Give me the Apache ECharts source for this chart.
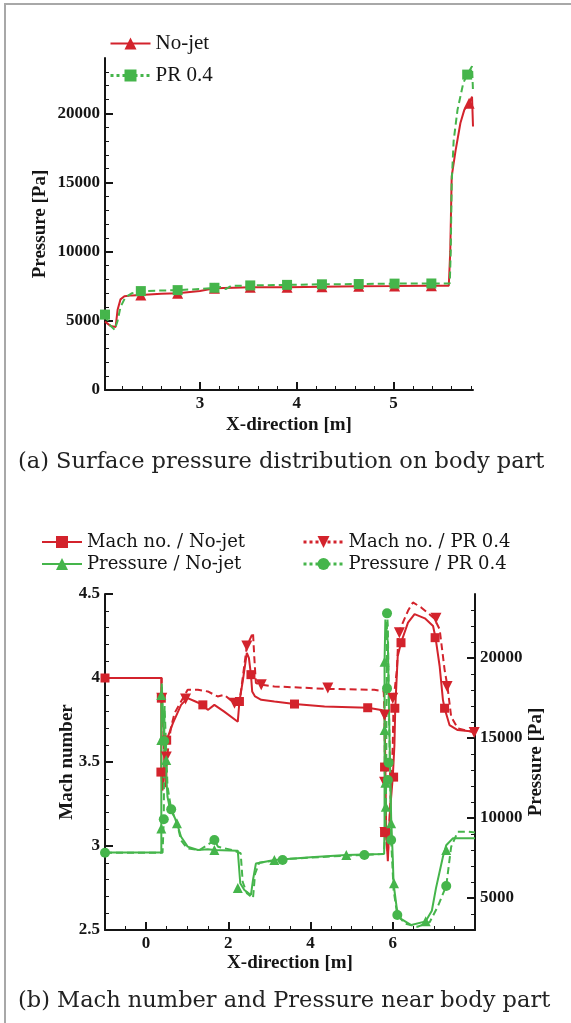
<!DOCTYPE html>
<html><head><meta charset="utf-8">
<script src="https://cdn.jsdelivr.net/npm/echarts@6/dist/echarts.min.js"></script>
<style>html,body{margin:0;padding:0;background:#fff}#c{width:571px;height:1023px}</style>
</head><body><div id="c"></div>
<script>
// ---------- (a) surface pressure on body part ----------
const topXTicks = [3, 4, 5];
const topYTicks = [0, 5000, 10000, 15000, 20000];
const topNoJet = [[2.02,4940],[2.08,4620],[2.13,4560],[2.15,5800],[2.18,6550],[2.22,6780],[2.3,6840],[2.39,6870],[2.6,6950],[2.77,6990],[3.0,7150],[3.15,7350],[3.35,7400],[3.52,7420],[3.9,7430],[4.26,7470],[4.64,7500],[5.01,7510],[5.39,7530],[5.57,7540],[5.585,10000],[5.6,15440],[5.64,17300],[5.69,19300],[5.73,20250],[5.78,20720],[5.81,21200],[5.82,19050]];
const topNoJetMarks = [[2.39,6870],[2.77,6990],[3.15,7350],[3.52,7420],[3.9,7430],[4.26,7470],[4.64,7500],[5.01,7510],[5.39,7530],[5.78,20720]];
const topPR = [[2.02,5450],[2.07,4700],[2.12,4350],[2.15,5000],[2.18,6000],[2.23,6700],[2.3,7000],[2.39,7150],[2.77,7220],[3.0,7300],[3.15,7390],[3.22,7450],[3.27,7300],[3.32,7520],[3.52,7560],[3.9,7600],[4.26,7640],[4.64,7660],[5.01,7690],[5.39,7700],[5.58,7700],[5.59,10000],[5.6,15000],[5.62,18000],[5.66,20250],[5.72,22200],[5.76,22800],[5.81,23400],[5.82,21600]];
const topPRMarks = [[2.02,5450],[2.39,7150],[2.77,7220],[3.15,7390],[3.52,7560],[3.9,7600],[4.26,7640],[4.64,7660],[5.01,7690],[5.39,7700],[5.76,22800]];

// ---------- (b) Mach number and pressure near body part ----------
const botXTicks = [0, 2, 4, 6];
const machTicks = [2.5, 3, 3.5, 4, 4.5];
const presTicks = [5000, 10000, 15000, 20000];
const machNoJet = [[-1,4.0],[0.37,4.0],[0.37,3.87],[0.37,3.44],[0.4,3.33],[0.45,3.52],[0.5,3.63],[0.65,3.73],[0.85,3.84],[1.01,3.88],[1.2,3.86],[1.38,3.84],[1.5,3.81],[1.66,3.84],[1.9,3.8],[2.23,3.74],[2.27,3.86],[2.35,3.98],[2.45,4.15],[2.5,4.12],[2.55,4.02],[2.58,3.92],[2.65,3.89],[2.8,3.87],[3.12,3.86],[3.61,3.845],[4.34,3.83],[5.39,3.823],[5.72,3.81],[5.8,3.8],[5.82,3.47],[5.84,3.08],[5.88,2.91],[5.93,3.2],[6.0,3.41],[6.04,3.6],[6.06,3.82],[6.12,4.13],[6.2,4.21],[6.37,4.33],[6.53,4.38],[6.78,4.355],[6.98,4.31],[7.04,4.24],[7.14,4.07],[7.22,3.87],[7.26,3.82],[7.38,3.72],[7.58,3.69],[8.0,3.68]];
const machNoJetMarks = [[-1,4.0],[0.37,3.88],[0.36,3.44],[0.5,3.63],[1.38,3.84],[2.27,3.86],[2.55,4.02],[3.61,3.845],[5.39,3.823],[5.8,3.47],[5.8,3.08],[6.02,3.41],[6.05,3.82],[6.2,4.21],[7.03,4.24],[7.26,3.82]];
const machPR = [[-1,4.0],[0.38,4.0],[0.38,3.88],[0.42,3.7],[0.45,3.45],[0.48,3.35],[0.51,3.53],[0.6,3.7],[0.69,3.79],[0.85,3.86],[1.01,3.93],[1.26,3.93],[1.5,3.92],[1.74,3.89],[1.9,3.9],[2.15,3.85],[2.28,3.87],[2.45,4.19],[2.6,4.27],[2.63,4.13],[2.67,3.97],[2.8,3.96],[3.12,3.95],[4.43,3.935],[5.55,3.93],[5.78,3.92],[5.8,3.78],[5.81,3.35],[5.83,3.08],[5.88,2.95],[5.95,3.3],[6.0,3.6],[6.02,3.87],[6.1,4.05],[6.14,4.27],[6.37,4.4],[6.49,4.45],[6.69,4.42],[7.01,4.355],[7.14,4.29],[7.26,4.05],[7.33,3.95],[7.42,3.77],[7.58,3.7],[8.0,3.675]];
const machPRMarks = [[0.38,3.88],[0.49,3.53],[0.96,3.875],[2.15,3.85],[2.45,4.19],[2.8,3.96],[4.42,3.94],[5.8,3.78],[5.8,3.38],[5.81,3.08],[6.0,3.88],[6.16,4.27],[7.05,4.355],[7.32,3.95],[7.98,3.675]];
const presNoJet = [[-1,7850],[0.37,7850],[0.37,9350],[0.37,14875],[0.37,17690],[0.38,18400],[0.42,16000],[0.47,13420],[0.52,11330],[0.57,10700],[0.7,10000],[0.75,9670],[0.85,8830],[1.01,8210],[1.26,8000],[1.5,8050],[1.66,8000],[2.23,7960],[2.29,5920],[2.39,5500],[2.55,5190],[2.6,6125],[2.67,7150],[3.12,7375],[4.0,7550],[4.87,7690],[5.72,7750],[5.79,7760],[5.8,9700],[5.8,13600],[5.8,19770],[5.82,22400],[5.88,21000],[5.92,15000],[5.96,10080],[6.0,7500],[6.02,5875],[6.1,4300],[6.2,3700],[6.45,3310],[6.8,3540],[6.95,4200],[7.05,5600],[7.22,7580],[7.3,8300],[7.46,8730],[8.0,8730]];
const presNoJetMarks = [[0.37,9350],[0.37,14875],[0.37,17690],[0.49,13625],[0.75,9670],[1.66,8000],[2.23,5625],[3.12,7375],[4.87,7690],[5.8,19770],[5.8,15500],[5.82,12200],[5.83,10700],[5.96,9670],[6.03,5920],[6.8,3540],[7.3,8000]];
const presPR = [[-1,7830],[0.4,7830],[0.43,9875],[0.44,14875],[0.45,17000],[0.48,14800],[0.52,12000],[0.61,10540],[0.75,9700],[0.85,8600],[1.0,8100],[1.3,8000],[1.6,8500],[1.66,8625],[1.75,8200],[2.1,8000],[2.3,7800],[2.35,6000],[2.45,5300],[2.6,5000],[2.65,6500],[2.75,7200],[3.32,7420],[4.5,7600],[5.31,7690],[5.78,7750],[5.82,9000],[5.84,12400],[5.85,18100],[5.86,22790],[5.88,22000],[5.9,18000],[5.93,13460],[5.96,8625],[6.02,5500],[6.11,3940],[6.3,3400],[6.6,3200],[6.9,3500],[7.1,4500],[7.3,5750],[7.42,8200],[7.58,9140],[7.8,9150],[8.0,9100]];
const presPRMarks = [[-1,7830],[0.43,9920],[0.44,14810],[0.61,10540],[1.66,8625],[3.32,7375],[5.31,7690],[5.86,22790],[5.86,18100],[5.88,12375],[5.9,13460],[5.96,8625],[6.11,3940],[7.3,5750]];

const RED = '#d3232c', GREEN = '#45b54b', INK = '#151515';
const SERIF = 'Liberation Serif';
const DOWN_TRI = 'path://M0,0L10,0L5,9Z';
function range(a, b, s) { const r = []; for (let v = a; v <= b + 1e-9; v += s) r.push(+v.toFixed(4)); return r; }

const lblStyle = { fontFamily: SERIF, fontWeight: 'bold', fontSize: 17, color: INK };
const nameStyle = { fontFamily: SERIF, fontWeight: 'bold', fontSize: 19, color: INK };
function majorAxis(o) {
  return Object.assign({
    type: 'value', splitLine: { show: false },
    axisLine: { show: true, onZero: false, lineStyle: { color: INK, width: 2 } },
    axisTick: { show: true, inside: true, length: 8, lineStyle: { color: INK, width: 2 }, customValues: o.ticks },
    axisLabel: Object.assign({ customValues: o.ticks, margin: 5, formatter: v => String(v) }, lblStyle),
    nameLocation: 'middle', nameMoveOverlap: false, nameTextStyle: nameStyle
  }, o.extra);
}
function minorAxis(o) {
  return Object.assign({
    type: 'value', splitLine: { show: false },
    axisLine: { show: false, onZero: false },
    axisTick: { show: true, inside: true, length: 4, lineStyle: { color: INK, width: 1 }, customValues: o.ticks },
    axisLabel: { show: false }
  }, o.extra);
}

const xAxis = [
  majorAxis({ ticks: topXTicks, extra: { gridIndex: 0, min: 2.02, max: 5.82, position: 'bottom', name: 'X-direction [m]', nameGap: 26 } }),
  minorAxis({ ticks: range(2.2, 5.8, 0.2), extra: { gridIndex: 0, min: 2.02, max: 5.82, position: 'bottom' } }),
  majorAxis({ ticks: botXTicks, extra: { gridIndex: 1, min: -1, max: 8, position: 'bottom', name: 'X-direction [m]', nameGap: 24 } }),
  minorAxis({ ticks: range(-0.5, 7.5, 0.5), extra: { gridIndex: 1, min: -1, max: 8, position: 'bottom' } })
];
const yAxis = [
  majorAxis({ ticks: topYTicks, extra: { gridIndex: 0, min: 0, max: 24000, position: 'left', name: 'Pressure [Pa]', nameGap: 55, nameRotate: 90 } }),
  minorAxis({ ticks: range(1000, 23000, 1000), extra: { gridIndex: 0, min: 0, max: 24000, position: 'left' } }),
  majorAxis({ ticks: machTicks, extra: { gridIndex: 1, min: 2.5, max: 4.5, position: 'left', name: 'Mach number', nameGap: 28, nameRotate: 90 } }),
  minorAxis({ ticks: range(2.6, 4.4, 0.1), extra: { gridIndex: 1, min: 2.5, max: 4.5, position: 'left' } }),
  majorAxis({ ticks: presTicks, extra: { gridIndex: 1, min: 3000, max: 24000, position: 'right', name: 'Pressure [Pa]', nameGap: 52, nameRotate: 90 } }),
  minorAxis({ ticks: range(4000, 23000, 1000), extra: { gridIndex: 1, min: 3000, max: 24000, position: 'right' } })
];

function line(name, data, color, dashed, symbol, symbolSize, xi, yi) {
  return { type: 'line', name, data, xAxisIndex: xi, yAxisIndex: yi, showSymbol: false, symbol, symbolSize,
    lineStyle: { color, width: 2, type: dashed ? [7, 4] : 'solid' }, itemStyle: { color },
    animation: false, z: 3, clip: true };
}
function marks(name, data, color, symbol, size, xi, yi) {
  return { type: 'scatter', name, data, xAxisIndex: xi, yAxisIndex: yi, symbol, symbolSize: size,
    itemStyle: { color, opacity: 1 }, animation: false, z: 4 };
}

const series = [
  line('No-jet', topNoJet, RED, false, 'triangle', 12, 0, 0),
  marks('m1', topNoJetMarks, RED, 'triangle', 11, 0, 0),
  line('PR 0.4', topPR, GREEN, true, 'rect', 12, 0, 0),
  marks('m2', topPRMarks, GREEN, 'rect', 10, 0, 0),
  line('Mach no. / No-jet', machNoJet, RED, false, 'rect', 12, 2, 2),
  marks('m3', machNoJetMarks, RED, 'rect', 9, 2, 2),
  line('Mach no. / PR 0.4', machPR, RED, true, DOWN_TRI, 12, 2, 2),
  marks('m4', machPRMarks, RED, DOWN_TRI, 11, 2, 2),
  line('Pressure / No-jet', presNoJet, GREEN, false, 'triangle', 12, 2, 4),
  marks('m5', presNoJetMarks, GREEN, 'triangle', 10, 2, 4),
  line('Pressure / PR 0.4', presPR, GREEN, true, 'circle', 12, 2, 4),
  marks('m6', presPRMarks, GREEN, 'circle', 10, 2, 4)
];

const legendBase = { orient: 'vertical', itemWidth: 40, itemHeight: 15, selectedMode: false };
const option = {
  backgroundColor: '#fff',
  animation: false,
  grid: [
    { left: 105, top: 58, width: 368, height: 332 },
    { left: 105, top: 594, width: 370, height: 336 }
  ],
  xAxis, yAxis, series,
  legend: [
    Object.assign({}, legendBase, { left: 104, top: 28, itemGap: 11,
      data: [{ name: 'No-jet' }, { name: 'PR 0.4', lineStyle: { type: 'dotted', width: 3 } }],
      textStyle: { fontFamily: SERIF, fontSize: 21, color: INK } }),
    Object.assign({}, legendBase, { left: 36, top: 528, itemGap: 4,
      data: [{ name: 'Mach no. / No-jet' }, { name: 'Pressure / No-jet' }],
      textStyle: { fontFamily: 'DejaVu Serif', fontSize: 18, color: INK } }),
    Object.assign({}, legendBase, { left: 297, top: 528, itemGap: 4,
      data: [{ name: 'Mach no. / PR 0.4', lineStyle: { type: 'dotted', width: 3 } }, { name: 'Pressure / PR 0.4', lineStyle: { type: 'dotted', width: 3 } }],
      textStyle: { fontFamily: 'DejaVu Serif', fontSize: 18, color: INK } })
  ],
  graphic: [
    { type: 'rect', shape: { x: 5, y: 4, width: 620, height: 1100 }, style: { fill: 'none', stroke: '#a8a8a8', lineWidth: 2 }, silent: true },
    { type: 'text', left: 18, top: 451, style: { text: '(a) Surface pressure distribution on body part', font: '22.5px "DejaVu Serif"', fill: '#222' } },
    { type: 'text', left: 18, top: 990, style: { text: '(b) Mach number and Pressure near body part', font: '22.5px "DejaVu Serif"', fill: '#222' } }
  ]
};
const chart = echarts.init(document.getElementById('c'), null, { renderer: 'canvas' });
chart.setOption(option);
</script>
</body></html>
